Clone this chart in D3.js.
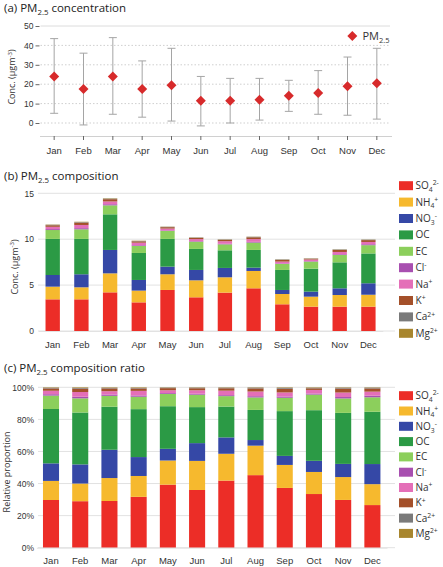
<!DOCTYPE html>
<html>
<head>
<meta charset="utf-8">
<script src="https://cdn.jsdelivr.net/npm/d3@7"></script>
<style>
  body { margin: 0; background: #fff; }
  svg { font-family: 'Open Sans', sans-serif; display: block; }
</style>
</head>
<body>
<svg id="chart" width="443" height="567"></svg>
<script>
const months = ['Jan', 'Feb', 'Mar', 'Apr', 'May', 'Jun', 'Jul', 'Aug', 'Sep', 'Oct', 'Nov', 'Dec'];

// (a) monthly PM2.5 mean with range
const pm25 = [24, 17.5, 24, 17.5, 19.5, 11.5, 11.5, 12, 14, 15.5, 19, 20.5];
const pm25Low = [5, -1, 4.5, 3, 1, -1.5, 0, 1.5, 6, 4.5, 4, 2];
const pm25High = [43.5, 36, 44, 32, 38.5, 24, 23, 23, 22, 27, 34, 38.5];
const pm25Ticks = [0, 10, 20, 30, 40, 50];

// (b) composition, ug/m3
const so4 = [3.45, 3.45, 4.21, 3.12, 4.47, 3.67, 4.18, 4.65, 2.91, 2.65, 2.65, 2.65];
const nh4 = [1.38, 1.31, 2.07, 1.28, 1.71, 1.85, 1.67, 1.89, 1.12, 1.09, 1.27, 1.3];
const no3 = [1.27, 1.42, 2.55, 1.16, 0.83, 1.13, 1.02, 0.36, 0.44, 0.55, 0.73, 1.25];
const oc = [3.93, 3.85, 3.88, 2.94, 3.02, 2.29, 1.92, 1.93, 2.18, 2.5, 2.83, 3.25];
const ec = [0.97, 1.05, 0.98, 0.76, 0.87, 0.79, 0.65, 0.8, 0.65, 0.77, 0.8, 0.9];
const cl = [0.1, 0.12, 0.12, 0.08, 0.06, 0.06, 0.06, 0.08, 0.06, 0.05, 0.08, 0.1];
const na = [0.25, 0.35, 0.3, 0.28, 0.2, 0.22, 0.28, 0.3, 0.2, 0.18, 0.25, 0.25];
const k = [0.17, 0.25, 0.25, 0.15, 0.15, 0.13, 0.15, 0.2, 0.18, 0.08, 0.22, 0.2];
const ca = [0.05, 0.06, 0.06, 0.04, 0.04, 0.04, 0.04, 0.05, 0.05, 0.03, 0.05, 0.05];
const mg = [0.03, 0.04, 0.04, 0.03, 0.02, 0.02, 0.02, 0.02, 0.02, 0.02, 0.02, 0.02];
const concTicks = [0, 5, 10, 15];
const ratioTicks = [0, 0.2, 0.4, 0.6, 0.8, 1];

const species = [
  { key: 'SO4', values: so4, color: '#ec2d27', label: [['SO', 'n'], ['4', 'sub'], ['2-', 'sup']] },
  { key: 'NH4', values: nh4, color: '#f6b92e', label: [['NH', 'n'], ['4', 'sub'], ['+', 'sup']] },
  { key: 'NO3', values: no3, color: '#3548a6', label: [['NO', 'n'], ['3', 'sub'], ['-', 'sup']] },
  { key: 'OC', values: oc, color: '#2b9a45', label: [['OC', 'n']] },
  { key: 'EC', values: ec, color: '#8ccf5c', label: [['EC', 'n']] },
  { key: 'Cl', values: cl, color: '#a84fb0', label: [['Cl', 'n'], ['-', 'sup']] },
  { key: 'Na', values: na, color: '#e46fb8', label: [['Na', 'n'], ['+', 'sup']] },
  { key: 'K', values: k, color: '#a4502a', label: [['K', 'n'], ['+', 'sup']] },
  { key: 'Ca', values: ca, color: '#7a7a7a', label: [['Ca', 'n'], ['2+', 'sup']] },
  { key: 'Mg', values: mg, color: '#a8862e', label: [['Mg', 'n'], ['2+', 'sup']] },
];

const rows = months.map((m, i) => {
  const r = { month: m };
  species.forEach((s) => { r[s.key] = s.values[i]; });
  return r;
});

const svg = d3.select('#chart');
const textColor = '#333';
const gridColor = '#e2e2e2';

// text with sub/superscript parts, baseline reset between parts
const addRich = (g, x, y, parts, size, attrs = {}) => {
  const t = g.append('text').attr('x', x).attr('y', y).attr('font-size', size).attr('fill', textColor);
  Object.entries(attrs).forEach(([a, v]) => t.attr(a, v));
  let shift = 0;
  parts.forEach(([txt, kind]) => {
    let target = 0;
    if (kind === 'sub') target = size * 0.28;
    if (kind === 'sup') target = -size * 0.38;
    const sp = t.append('tspan').text(txt).attr('dy', target - shift);
    if (kind !== 'n') sp.attr('font-size', size * 0.68);
    shift = target;
  });
  return t;
};

const title = (y, parts) => addRich(svg, 4, y, parts, 11.5, { fill: '#222' });
const diamond = d3.symbol(d3.symbolSquare, 50);

// ---------- (a) ----------
title(12, [['(a) PM', 'n'], ['2.5', 'sub'], [' concentration', 'n']]);

const xa = d3.scaleBand().domain(months).range([39.5, 391.5]);
const ya = d3.scaleLinear().domain([0, 50]).range([123, 26]);
const ga = svg.append('g');

ga.selectAll('line.grid')
  .data(pm25Ticks)
  .join('line')
  .attr('x1', 40.5).attr('x2', 390)
  .attr('y1', (d) => ya(d)).attr('y2', (d) => ya(d))
  .attr('stroke', (d) => (d === 50 ? '#dcdcdc' : '#cfcfcf'))
  .attr('stroke-dasharray', (d) => (d === 50 ? null : '1.5,2'));

ga.append('g')
  .attr('transform', 'translate(39.5,0)')
  .call(d3.axisLeft(ya).tickValues(pm25Ticks).tickSize(4).tickPadding(2))
  .call((g) => g.select('.domain').remove())
  .call((g) => g.selectAll('line').attr('stroke', '#666'))
  .call((g) => g.selectAll('text').attr('font-size', 8.5).attr('fill', textColor).attr('font-family', null));

ga.append('g')
  .attr('transform', 'translate(0,136)')
  .call(d3.axisBottom(xa).tickSize(4).tickPadding(7).tickSizeOuter(0))
  .call((g) => g.select('.domain').attr('stroke', '#d0d0d0'))
  .call((g) => g.selectAll('line').attr('stroke', '#666'))
  .call((g) => g.selectAll('text').attr('font-size', 9.5).attr('fill', textColor).attr('font-family', null));

const barsA = ga.append('g').selectAll('g').data(months).join('g')
  .attr('transform', (d) => `translate(${xa(d) + xa.bandwidth() / 2},0)`);
barsA.append('line')
  .attr('y1', (d, i) => ya(pm25Low[i])).attr('y2', (d, i) => ya(pm25High[i]))
  .attr('stroke', '#a5a5a5').attr('stroke-width', 1);
[pm25Low, pm25High].forEach((arr) => {
  barsA.append('line')
    .attr('x1', -4).attr('x2', 4)
    .attr('y1', (d, i) => ya(arr[i])).attr('y2', (d, i) => ya(arr[i]))
    .attr('stroke', '#a5a5a5').attr('stroke-width', 1);
});
barsA.append('path')
  .attr('d', diamond)
  .attr('transform', (d, i) => `translate(0,${ya(pm25[i])}) rotate(45)`)
  .attr('fill', '#d72a2b');

svg.append('path')
  .attr('d', diamond)
  .attr('transform', 'translate(352.3,36) rotate(45)')
  .attr('fill', '#d72a2b');
addRich(svg, 362.5, 40, [['PM', 'n'], ['2.5', 'sub']], 11);

addRich(svg, 0, 0, [['Conc. (µgm', 'n'], ['-3', 'sup'], [')', 'n']], 9, {
  transform: 'translate(15,77) rotate(-90)', 'text-anchor': 'middle',
});

// ---------- stacked panels ----------
const stack = d3.stack().keys(species.map((s) => s.key));

const stackedPanel = (opts) => {
  const { top, bottom, yDomain, ticks, fmt, xRange, pInner, pOuter, labelDy, offset, legendTop, legendStep, gridX2 } = opts;
  const x = d3.scaleBand().domain(months).range(xRange).paddingInner(pInner).paddingOuter(pOuter);
  const y = d3.scaleLinear().domain(yDomain).range([bottom, top]);
  const g = svg.append('g');

  g.selectAll('line.grid')
    .data(ticks)
    .join('line')
    .attr('x1', 38).attr('x2', gridX2)
    .attr('y1', (d) => y(d)).attr('y2', (d) => y(d))
    .attr('stroke', gridColor);

  g.append('g')
    .attr('transform', 'translate(38,0)')
    .call(d3.axisLeft(y).tickValues(ticks).tickSize(0).tickPadding(4).tickFormat(fmt))
    .call((a) => a.select('.domain').remove())
    .call((a) => a.selectAll('text').attr('font-size', 8.5).attr('fill', textColor).attr('font-family', null));

  const layers = stack.offset(offset)(rows);
  g.append('g')
    .selectAll('g')
    .data(layers)
    .join('g')
    .attr('fill', (d, i) => species[i].color)
    .selectAll('rect')
    .data((d) => d)
    .join('rect')
    .attr('x', (d) => x(d.data.month))
    .attr('y', (d) => y(d[1]))
    .attr('height', (d) => y(d[0]) - y(d[1]))
    .attr('width', x.bandwidth());

  g.append('g')
    .attr('transform', `translate(0,${bottom})`)
    .call(d3.axisBottom(x).tickSize(0).tickPadding(labelDy))
    .call((a) => a.select('.domain').attr('stroke', gridColor))
    .call((a) => a.selectAll('text').attr('font-size', 9.5).attr('fill', textColor).attr('font-family', null));

  const leg = g.append('g');
  species.forEach((s, i) => {
    const cy = legendTop + i * legendStep;
    leg.append('rect').attr('x', 399).attr('y', cy - 4.5).attr('width', 14).attr('height', 9).attr('fill', s.color);
    addRich(leg, 415.5, cy + 3.5, s.label, 10);
  });
};

// (b)
title(180, [['(b) PM', 'n'], ['2.5', 'sub'], [' composition', 'n']]);
stackedPanel({
  top: 193.3, bottom: 331, yDomain: [0, 15], ticks: concTicks, fmt: d3.format('d'),
  xRange: [38.35, 382.75], pInner: 0.5, pOuter: 0.25, labelDy: 10.5,
  offset: d3.stackOffsetNone, legendTop: 185.7, legendStep: 16.4, gridX2: 395,
});
addRich(svg, 0, 0, [['Conc. (µgm', 'n'], ['-3', 'sup'], [')', 'n']], 9, {
  transform: 'translate(17.5,267) rotate(-90)', 'text-anchor': 'middle',
});

// (c)
title(372, [['(c) PM', 'n'], ['2.5', 'sub'], [' composition ratio', 'n']]);
stackedPanel({
  top: 387.3, bottom: 547.7, yDomain: [0, 1], ticks: ratioTicks, fmt: d3.format('.0%'),
  xRange: [36.4, 387], pInner: 0.45, pOuter: 0.225, labelDy: 9.8,
  offset: d3.stackOffsetExpand, legendTop: 395.7, legendStep: 15.3, gridX2: 395,
});
addRich(svg, 0, 0, [['Relative proportion', 'n']], 9, {
  transform: 'translate(9.5,472) rotate(-90)', 'text-anchor': 'middle',
});
</script>
</body>
</html>
